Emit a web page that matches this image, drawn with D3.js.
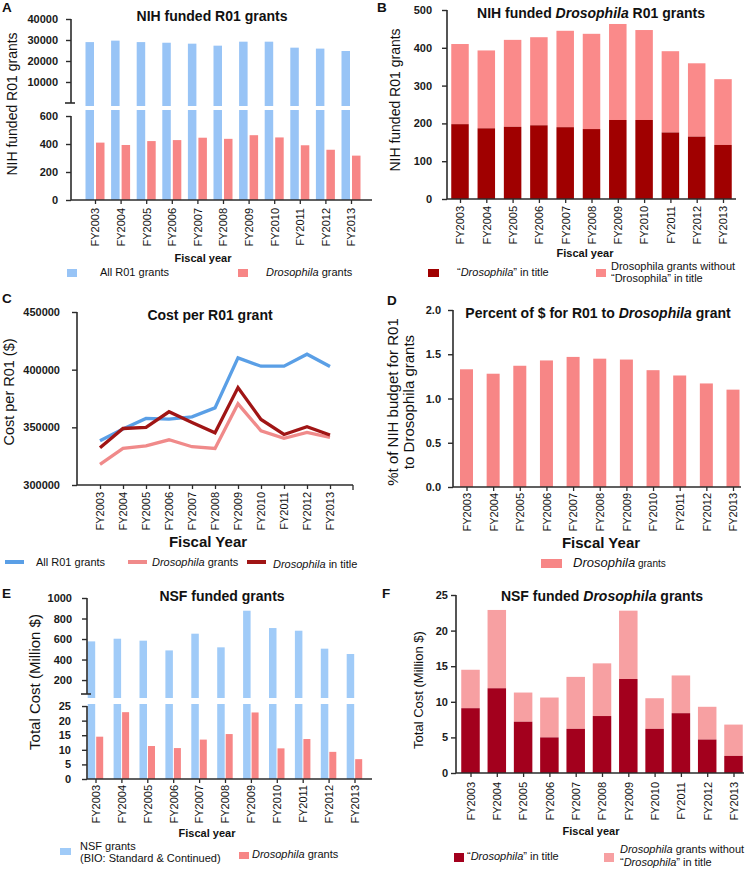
<!DOCTYPE html>
<html><head><meta charset="utf-8">
<script src="https://cdn.jsdelivr.net/npm/d3@7"></script>
<style>
body{margin:0;background:#fff;}
svg{display:block;}
</style></head><body>
<svg id="c" width="748" height="870"></svg>
<script>
// ---------- DATA ----------
const years = ["FY2003","FY2004","FY2005","FY2006","FY2007","FY2008","FY2009","FY2010","FY2011","FY2012","FY2013"];
// A: NIH funded R01 grants
const nihAllR01 = [29000,29700,29000,28700,28250,27300,29200,29200,26350,25900,24760];
const nihDrosTotal = [410,393,421,428,445,437,463,447,391,359,317];
// B: Drosophila split
const nihDrosInTitle = [198,187,191,195,190,185,209,209,176,165,143];
// C: cost per R01 grant
const costAllR01 = [338400,348500,357700,357100,359100,366900,410200,403000,403000,413400,402700];
const costDros = [317900,331700,334000,339200,333200,331700,370400,347000,340400,345600,341200];
const costDrosTitle = [332300,349000,349900,363500,354200,345300,384500,356800,343800,350500,343300];
// D: percent of $
const pctDros = [1.33,1.28,1.37,1.43,1.47,1.45,1.44,1.32,1.26,1.17,1.10];
// E/F: NSF (million $)
const nsfBio = [577,603,584,489,652,519,876,707,681,506,454];
const nsfDrosTotal = [14.5,22.9,11.3,10.6,13.5,15.4,22.8,10.5,13.7,9.3,6.8];
const nsfDrosTitle = [9.1,11.9,7.2,5.0,6.2,8.0,13.2,6.2,8.4,4.7,2.4];
// tick values
const ticksAUpper = [10000,20000,30000,40000];
const ticksALower = [0,200,400,600];
const ticksB = [0,100,200,300,400,500];
const ticksC = [300000,350000,400000,450000];
const ticksD = [0,0.5,1.0,1.5,2.0];
const ticksEUpper = [200,400,600,800,1000];
const ticksELower = [0,5,10,15,20,25];
const ticksF = [0,5,10,15,20,25];

// ---------- STYLE ----------
const FF = '"Liberation Sans", Arial, sans-serif';
const AX = "#2b2b2b";
const C = {
  blue: "#98c4f6", pink: "#f78686", dark: "#a00000", light: "#fa8a8a",
  lineBlue: "#5a9fe6", lineLight: "#f08a8a", lineDark: "#a01515",
  eBlue: "#a0cbf8", fDark: "#a3001d", fLight: "#f7a0a2"
};

const svg = d3.select("#c").attr("font-family", FF);

function text(x, y, parts, o = {}) {
  const t = svg.append("text").attr("x", x).attr("y", y)
    .attr("font-size", o.size || 11).attr("font-weight", o.bold ? "bold" : "normal")
    .attr("text-anchor", o.anchor || "start").attr("fill", o.fill || "#111");
  if (o.rotate) {
    t.attr("x", 0).attr("y", 0).attr("dy", "0.35em")
     .attr("transform", `translate(${x},${y}) rotate(-90)`);
  }
  (Array.isArray(parts) ? parts : [[parts]]).forEach(p => {
    const s = t.append("tspan").text(p[0]);
    if (p[1]) s.attr("font-style", "italic");
    if (p[2]) s.attr("font-size", p[2]);
  });
  return t;
}

function yAxis(scale, x, ticks, fmt, pad) {
  const g = svg.append("g").attr("transform", `translate(${x},0)`)
    .call(d3.axisLeft(scale).tickValues(ticks).tickSize(5).tickPadding(pad).tickFormat(fmt));
  g.select(".domain").remove();
  g.attr("font-family", FF).attr("font-size", 11);
  g.selectAll("text").attr("font-weight", "bold").attr("fill", "#1a1a1a");
  g.selectAll("line").attr("stroke", AX).attr("stroke-width", 1.4);
  return g;
}
function vline(x, y0, y1) {
  svg.append("line").attr("x1", x).attr("x2", x).attr("y1", y0).attr("y2", y1)
    .attr("stroke", AX).attr("stroke-width", 1.6);
}
function hline(x0, x1, y) {
  svg.append("line").attr("x1", x0).attr("x2", x1).attr("y1", y).attr("y2", y)
    .attr("stroke", AX).attr("stroke-width", 1.6);
}
function xAxis(xs, y, x0, x1, pad, tickVals) {
  const g = svg.append("g").attr("transform", `translate(0,${y})`)
    .call(d3.axisBottom(xs).tickValues(tickVals || xs.domain()).tickSize(4));
  g.select(".domain").remove();
  g.attr("font-family", FF).attr("font-size", 11);
  g.selectAll("line").attr("stroke", AX).attr("stroke-width", 1.3);
  g.selectAll("text").attr("y", 0).attr("x", -pad).attr("dy", "0.35em")
    .attr("transform", "rotate(-90)").attr("text-anchor", "end").attr("fill", "#111");
  hline(x0, x1, y);
  return g;
}
const rows = years.map((y, i) => ({ y, i }));

// ================= PANEL A =================
{
  const xs = d3.scalePoint().domain(years).range([95, 351]);
  const yU = d3.scaleLinear().domain([-1430, 40000]).range([106, 19]);
  const yL = d3.scaleLinear().domain([0, 643]).range([200, 110]);
  const w = 8.5;
  svg.append("g").selectAll("rect").data(rows).join("rect")
    .attr("x", d => xs(d.y) - w - 1).attr("width", w)
    .attr("y", d => yU(nihAllR01[d.i])).attr("height", d => yU.range()[0] - yU(nihAllR01[d.i]))
    .attr("fill", C.blue);
  svg.append("g").selectAll("rect").data(rows).join("rect")
    .attr("x", d => xs(d.y) - w - 1).attr("width", w)
    .attr("y", d => yL(Math.min(nihAllR01[d.i], 643))).attr("height", d => yL(0) - yL(Math.min(nihAllR01[d.i], 643)))
    .attr("fill", C.blue);
  svg.append("g").selectAll("rect").data(rows).join("rect")
    .attr("x", d => xs(d.y) + 1).attr("width", w)
    .attr("y", d => yL(nihDrosTotal[d.i])).attr("height", d => yL(0) - yL(nihDrosTotal[d.i]))
    .attr("fill", C.pink);
  yAxis(yU, 71, ticksAUpper, d3.format("d"), 8);
  yAxis(yL, 71, ticksALower, d3.format("d"), 8);
  vline(71, yU(40000), yU(0));
  hline(65, 75, yU(0));
  vline(71, yL(0), yL(600));
  xAxis(xs, 200, 71, 372, 8);
  text(2, 12, "A", { bold: true, size: 13.5 });
  text(212, 21, "NIH funded R01 grants", { bold: true, size: 14, anchor: "middle" });
  text(12, 104, "NIH funded  R01  grants", { size: 14, anchor: "middle", rotate: true });
  text(203, 262, "Fiscal year", { bold: true, size: 11, anchor: "middle" });
  svg.append("rect").attr("x", 67).attr("y", 269).attr("width", 10).attr("height", 8).attr("fill", C.blue);
  text(100, 276, "All R01 grants", { size: 11 });
  svg.append("rect").attr("x", 238).attr("y", 269).attr("width", 10).attr("height", 8).attr("fill", C.pink);
  text(266, 276, [["Drosophila", true], [" grants"]], { size: 11 });
}

// ================= PANEL B =================
{
  const xs = d3.scalePoint().domain(years).range([460, 723]);
  const ys = d3.scaleLinear().domain([0, 500]).range([199, 10]);
  const w = 17.5;
  svg.append("g").selectAll("rect").data(rows).join("rect")
    .attr("x", d => xs(d.y) - w / 2).attr("width", w)
    .attr("y", d => ys(nihDrosTotal[d.i])).attr("height", d => ys(nihDrosInTitle[d.i]) - ys(nihDrosTotal[d.i]))
    .attr("fill", C.light);
  svg.append("g").selectAll("rect").data(rows).join("rect")
    .attr("x", d => xs(d.y) - w / 2).attr("width", w)
    .attr("y", d => ys(nihDrosInTitle[d.i])).attr("height", d => ys(0) - ys(nihDrosInTitle[d.i]))
    .attr("fill", C.dark);
  yAxis(ys, 447, ticksB, d3.format("d"), 10);
  vline(447, ys(0), ys(500));
  xAxis(xs, 199, 447, 736, 7);
  text(377, 12, "B", { bold: true, size: 13.5 });
  text(591, 18, [["NIH funded "], ["Drosophila", true], [" R01 grants"]], { bold: true, size: 14, anchor: "middle" });
  text(395, 100, "NIH funded R01 grants", { size: 14, anchor: "middle", rotate: true });
  text(585, 257, "Fiscal year", { bold: true, size: 11, anchor: "middle" });
  svg.append("rect").attr("x", 428).attr("y", 269).attr("width", 11).attr("height", 8).attr("fill", C.dark);
  text(457, 276, [["“"], ["Drosophila", true], ["” in title"]], { size: 11 });
  svg.append("rect").attr("x", 596).attr("y", 269).attr("width", 10).attr("height", 8).attr("fill", C.light);
  text(611, 270, "Drosophila grants without", { size: 11 });
  text(611, 282, "“Drosophila” in title", { size: 11 });
}

// ================= PANEL C =================
{
  const xs = d3.scalePoint().domain(years).range([100, 330]);
  const ys = d3.scaleLinear().domain([300000, 450000]).range([485, 312]);
  const series = [[costAllR01, C.lineBlue], [costDros, C.lineLight], [costDrosTitle, C.lineDark]];
  series.forEach(([arr, col]) => {
    svg.append("path").datum(rows)
      .attr("d", d3.line().x(d => xs(d.y)).y(d => ys(arr[d.i])))
      .attr("fill", "none").attr("stroke", col).attr("stroke-width", 3.3).attr("stroke-linejoin", "miter");
  });
  yAxis(ys, 77, ticksC, d3.format("d"), 12);
  vline(77, ys(300000), ys(450000));
  const end = xs.range()[1] + xs.step();
  xAxis(xs, 485, 77, end, 7);
  svg.append("line").attr("x1", end).attr("x2", end).attr("y1", 485).attr("y2", 490).attr("stroke", AX).attr("stroke-width", 1.3);
  text(2, 303, "C", { bold: true, size: 13.5 });
  text(210, 320, "Cost per R01 grant", { bold: true, size: 14, anchor: "middle" });
  text(9, 392, "Cost per R01  ($)", { size: 14.5, anchor: "middle", rotate: true });
  text(208, 547, "Fiscal Year", { bold: true, size: 15, anchor: "middle" });
  [[5, C.lineBlue], [128, C.lineLight], [247, C.lineDark]].forEach(([x, col]) => {
    svg.append("line").attr("x1", x).attr("x2", x + 19).attr("y1", 562).attr("y2", 562)
      .attr("stroke", col).attr("stroke-width", 4);
  });
  text(36, 566, "All R01 grants", { size: 11 });
  text(152, 566, [["Drosophila", true], [" grants"]], { size: 11 });
  text(273, 568, [["Drosophila", true], [" in title"]], { size: 11 });
}

// ================= PANEL D =================
{
  const xs = d3.scalePoint().domain(years).range([466.5, 733]);
  const ys = d3.scaleLinear().domain([0, 2]).range([487, 310]);
  const w = 13;
  svg.append("g").selectAll("rect").data(rows).join("rect")
    .attr("x", d => xs(d.y) - w / 2).attr("width", w)
    .attr("y", d => ys(pctDros[d.i])).attr("height", d => ys(0) - ys(pctDros[d.i]))
    .attr("fill", C.pink);
  yAxis(ys, 453, ticksD, d3.format(".1f"), 7);
  vline(453, ys(0), ys(2));
  xAxis(xs, 487, 453, 741, 6);
  text(387, 305, "D", { bold: true, size: 13.5 });
  text(598, 318, [["Percent of $ for R01 to "], ["Drosophila", true], [" grant"]], { bold: true, size: 14, anchor: "middle" });
  text(393, 402, "%t of NIH budget for R01", { size: 15, anchor: "middle", rotate: true });
  text(409, 402, "to Drosophila grants", { size: 15, anchor: "middle", rotate: true });
  text(601, 548, "Fiscal Year", { bold: true, size: 15, anchor: "middle" });
  svg.append("rect").attr("x", 541).attr("y", 559).attr("width", 21).attr("height", 9).attr("fill", C.pink);
  text(573, 567, [["Drosophila", true, 13], [" grants", false, 10]], { size: 13 });
}

// ================= PANEL E =================
{
  const xs = d3.scalePoint().domain(years).range([95.5, 354.5]);
  const yU = d3.scaleLinear().domain([25, 1000]).range([698, 598]);
  const yL = d3.scaleLinear().domain([0, 25.7]).range([779, 704]);
  const wb = 7.5, wr = 7;
  svg.append("g").selectAll("rect").data(rows).join("rect")
    .attr("x", d => xs(d.y) - wb - 0.3).attr("width", wb)
    .attr("y", d => yU(nsfBio[d.i])).attr("height", d => yU.range()[0] - yU(nsfBio[d.i]))
    .attr("fill", C.eBlue);
  svg.append("g").selectAll("rect").data(rows).join("rect")
    .attr("x", d => xs(d.y) - wb - 0.3).attr("width", wb)
    .attr("y", d => yL(Math.min(nsfBio[d.i], 25.7))).attr("height", d => yL(0) - yL(Math.min(nsfBio[d.i], 25.7)))
    .attr("fill", C.eBlue);
  svg.append("g").selectAll("rect").data(rows).join("rect")
    .attr("x", d => xs(d.y) + 0.7).attr("width", wr)
    .attr("y", d => yL(nsfDrosTotal[d.i])).attr("height", d => yL(0) - yL(nsfDrosTotal[d.i]))
    .attr("fill", C.pink);
  yAxis(yU, 87, ticksEUpper, d3.format("d"), 10);
  yAxis(yL, 87, ticksELower, d3.format("d"), 11);
  vline(87, yU(1000), 694);
  hline(81, 91, 694);
  vline(87, yL(0), yL(25));
  xAxis(xs, 779, 87, 372, 6);
  text(2, 598, "E", { bold: true, size: 13.5 });
  text(222, 601, "NSF funded grants", { bold: true, size: 14, anchor: "middle" });
  text(35, 682, "Total Cost (Million $)", { size: 15, anchor: "middle", rotate: true });
  text(207, 837, "Fiscal year", { bold: true, size: 11, anchor: "middle" });
  svg.append("rect").attr("x", 60).attr("y", 848).attr("width", 11).attr("height", 7).attr("fill", C.eBlue);
  text(80, 850, "NSF grants", { size: 11 });
  text(80, 862, "(BIO: Standard & Continued)", { size: 11 });
  svg.append("rect").attr("x", 239).attr("y", 852).attr("width", 10).attr("height", 7).attr("fill", C.pink);
  text(252, 858, [["Drosophila", true], [" grants"]], { size: 11 });
}

// ================= PANEL F =================
{
  const xs = d3.scalePoint().domain(years).range([470.5, 733.5]);
  const ys = d3.scaleLinear().domain([0, 25]).range([773, 595]);
  const w = 18.5;
  svg.append("g").selectAll("rect").data(rows).join("rect")
    .attr("x", d => xs(d.y) - w / 2).attr("width", w)
    .attr("y", d => ys(nsfDrosTotal[d.i])).attr("height", d => ys(nsfDrosTitle[d.i]) - ys(nsfDrosTotal[d.i]))
    .attr("fill", C.fLight);
  svg.append("g").selectAll("rect").data(rows).join("rect")
    .attr("x", d => xs(d.y) - w / 2).attr("width", w)
    .attr("y", d => ys(nsfDrosTitle[d.i])).attr("height", d => ys(0) - ys(nsfDrosTitle[d.i]))
    .attr("fill", C.fDark);
  yAxis(ys, 456, ticksF, d3.format("d"), 3);
  vline(456, ys(0), ys(25));
  xAxis(xs, 773, 456, 744, 9);
  text(382, 598, "F", { bold: true, size: 13.5 });
  text(602, 601, [["NSF funded "], ["Drosophila", true], [" grants"]], { bold: true, size: 14, anchor: "middle" });
  text(418, 690, "Total Cost (Million $)", { size: 13, anchor: "middle", rotate: true });
  text(591, 835, "Fiscal year", { bold: true, size: 11, anchor: "middle" });
  svg.append("rect").attr("x", 454).attr("y", 853).attr("width", 10).attr("height", 9).attr("fill", C.fDark);
  text(467, 860, [["“"], ["Drosophila", true], ["” in title"]], { size: 11 });
  svg.append("rect").attr("x", 604).attr("y", 853).attr("width", 10).attr("height", 9).attr("fill", C.fLight);
  text(620, 853, [["Drosophila", true], [" grants without"]], { size: 11 });
  text(620, 866, [["“"], ["Drosophila", true], ["” in title"]], { size: 11 });
}
</script>
</body></html>
